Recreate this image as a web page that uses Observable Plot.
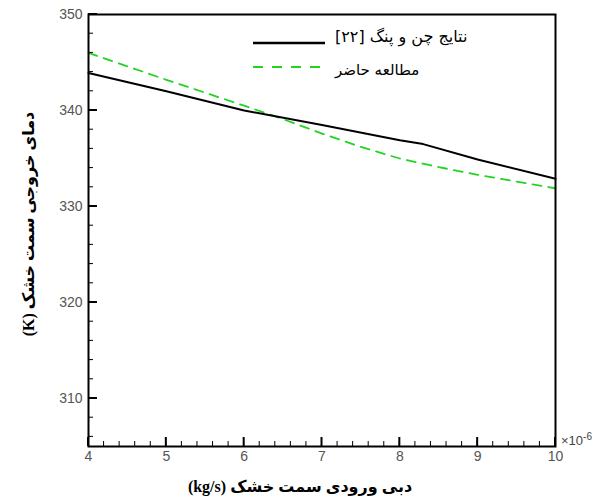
<!DOCTYPE html>
<html>
<head>
<meta charset="utf-8">
<script src="https://cdn.jsdelivr.net/npm/d3@7"></script>
<script src="https://cdn.jsdelivr.net/npm/@observablehq/plot@0.6"></script>
<style>
  html, body { margin: 0; padding: 0; background: #fff; }
  #wrap { width: 610px; height: 499px; overflow: hidden; }
</style>
</head>
<body>
<div id="wrap"></div>
<script>
// Data (x in units of 1e-6 kg/s, y in K)
const chenX = [4, 5, 6, 7, 8, 8.3, 9, 10];
const chenY = [343.9, 342.0, 340.0, 338.5, 336.9, 336.5, 334.9, 332.9];
const presentX = [4, 5, 6, 6.5, 7, 7.5, 8, 8.5, 9, 9.5, 10];
const presentY = [346.0, 343.2, 340.5, 339.1, 337.6, 336.2, 335.0, 334.1, 333.3, 332.6, 331.9];
const xTicks = [4, 5, 6, 7, 8, 9, 10];
const yTicks = [310, 320, 330, 340, 350];
const xMinor = d3.range(40, 101, 2).map(v => v / 10);
const yMinor = d3.range(306, 351, 2);
const seriesNames = ["نتایج چن و پنگ [۲۲]", "مطالعه حاضر"];
const xTitle = "دبی ورودی سمت خشک (kg/s)";
const yTitle = "دمای خروجی سمت خشک (K)";

const chen = chenX.map((x, i) => ({x, y: chenY[i]}));
const present = presentX.map((x, i) => ({x, y: presentY[i]}));

const green = "#22d422";
const W = 610, H = 499, mL = 88, mR = 55, mT = 14, mB = 53;

const chart = Plot.plot({
  width: W,
  height: H,
  marginLeft: mL,
  marginRight: mR,
  marginTop: mT,
  marginBottom: mB,
  style: {fontFamily: "Liberation Sans, Arial, sans-serif", fontSize: "14px", color: "#555", background: "#fff"},
  x: {domain: [4, 10]},
  y: {domain: [305, 350]},
  marks: [
    Plot.axisX(xTicks, {tickSize: 0, tickPadding: 5, tickFormat: d => String(d), label: null, fill: "#555", fontSize: 14}),
    Plot.axisY(yTicks, {tickSize: 0, tickPadding: 6, tickFormat: d => String(d), label: null, fill: "#555", fontSize: 14}),
    Plot.line(present, {x: "x", y: "y", stroke: green, strokeWidth: 1.8, strokeDasharray: "9,7"}),
    Plot.line(chen, {x: "x", y: "y", stroke: "#000", strokeWidth: 2}),
    Plot.frame({stroke: "#000", strokeWidth: 2})
  ]
});
document.getElementById("wrap").appendChild(chart);

const sx = chart.scale("x"), sy = chart.scale("y");
const svg = d3.select(chart);

// Inward ticks, positioned through the chart's own scales
const tg = svg.append("g").attr("class", "inward-ticks").attr("stroke", "#000");
const left = sx.apply(4), bottom = sy.apply(305);
tg.selectAll(".ym").data(yMinor).join("path")
  .attr("d", d => `M${left},${sy.apply(d)}h5`).attr("stroke-width", 1);
tg.selectAll(".yM").data(yTicks).join("path")
  .attr("d", d => `M${left},${sy.apply(d)}h9`).attr("stroke-width", 2);
tg.selectAll(".xm").data(xMinor).join("path")
  .attr("d", d => `M${sx.apply(d)},${bottom}v-5`).attr("stroke-width", 1);
tg.selectAll(".xM").data(xTicks).join("path")
  .attr("d", d => `M${sx.apply(d)},${bottom}v-9`).attr("stroke-width", 2);

// Annotations drawn inside the same SVG
const g = svg.append("g").attr("class", "annot");

// Legend
g.append("line").attr("x1", 253).attr("x2", 325).attr("y1", 43).attr("y2", 43)
  .attr("stroke", "#000").attr("stroke-width", 2.5);
g.append("line").attr("x1", 253).attr("x2", 325).attr("y1", 67).attr("y2", 67)
  .attr("stroke", green).attr("stroke-width", 2).attr("stroke-dasharray", "10,9");
g.append("text").attr("x", 335).attr("y", 42).attr("direction", "rtl").attr("text-anchor", "end")
  .attr("font-family", "DejaVu Sans, sans-serif").attr("font-size", 16).attr("fill", "#000")
  .text(seriesNames[0]);
g.append("text").attr("x", 335).attr("y", 75).attr("direction", "rtl").attr("text-anchor", "end")
  .attr("font-family", "DejaVu Sans, sans-serif").attr("font-size", 15).attr("fill", "#000")
  .text(seriesNames[1]);

// Axis titles
g.append("text").attr("x", 300).attr("y", 492).attr("direction", "rtl").attr("text-anchor", "middle")
  .attr("font-family", "Liberation Serif, DejaVu Sans, serif").attr("font-weight", "bold")
  .attr("font-size", 16).attr("fill", "#000").text(xTitle);
g.append("text").attr("transform", "translate(28,224) rotate(-90)").attr("dy", "0.35em")
  .attr("direction", "rtl").attr("text-anchor", "middle")
  .attr("font-family", "Liberation Serif, DejaVu Sans, serif").attr("font-weight", "bold")
  .attr("font-size", 16).attr("fill", "#000").text(yTitle);

// Exponent
const ex = g.append("text").attr("x", 561).attr("y", 445).attr("text-anchor", "start")
  .attr("font-family", "Liberation Sans, Arial, sans-serif").attr("font-size", 13).attr("fill", "#444");
ex.append("tspan").text("×10");
ex.append("tspan").attr("dy", -5).attr("font-size", 10).text("-6");
</script>
</body>
</html>
